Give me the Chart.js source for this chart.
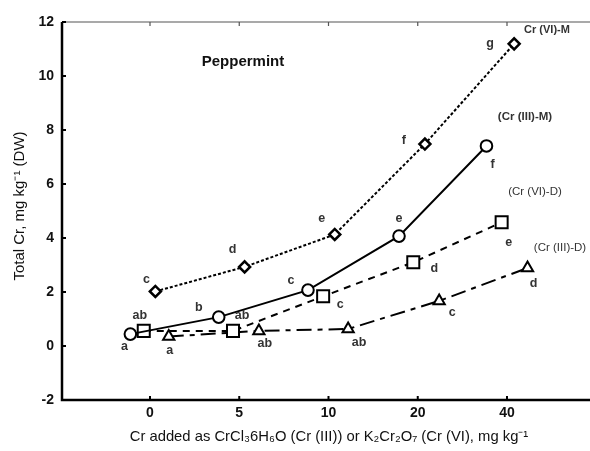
<!DOCTYPE html>
<html><head><meta charset="utf-8">
<script src="https://cdn.jsdelivr.net/npm/chart.js@4.4.1/dist/chart.umd.min.js"></script>
<style>html,body{margin:0;padding:0;background:#fff}#wrap{width:590px;height:451px}</style>
</head><body><div id="wrap"><canvas id="c" width="590" height="451"></canvas></div>
<script>
// Category tick labels (Cr added, mg/kg), placed at index positions 0..4
const tickLabels = ['0', '5', '10', '20', '40'];
const yTicks = [-2, 0, 2, 4, 6, 8, 10, 12];

// Series: x is category-index position (points are shifted around each category), y = Total Cr
const crVI_M_x = [0.06, 1.06, 2.07, 3.08, 4.08];
const crVI_M_y = [2.02, 2.93, 4.13, 7.48, 11.19];
const crVI_M_letters = ['c', 'd', 'e', 'f', 'g'];

const crIII_M_x = [-0.22, 0.77, 1.77, 2.79, 3.77];
const crIII_M_y = [0.44, 1.07, 2.07, 4.07, 7.41];
const crIII_M_letters = ['a', 'b', 'c', 'e', 'f'];

const crVI_D_x = [-0.07, 0.93, 1.94, 2.95, 3.94];
const crVI_D_y = [0.56, 0.56, 1.84, 3.10, 4.58];
const crVI_D_letters = ['ab', 'ab', 'c', 'd', 'e'];

const crIII_D_x = [0.21, 1.22, 2.22, 3.24, 4.23];
const crIII_D_y = [0.35, 0.56, 0.63, 1.67, 2.89];
const crIII_D_letters = ['a', 'ab', 'ab', 'c', 'd'];

const seriesNames = ['Cr (VI)-M', '(Cr (III)-M)', '(Cr (VI)-D)', '(Cr (III)-D)'];

// label placement (pixel offsets from each point)
const letterOffsets = [
  [[-9,-12],[-12,-17],[-13,-16],[-21,-3],[-24,0]],
  [[-6,12],[-20,-10],[-17,-10],[0,-18],[6,19]],
  [[-4,-15],[9,-15],[17,8],[21,6],[7,20]],
  [[1,14],[6,13],[11,14],[13,12],[6,16]]
];
const nameStyle = [
  {x:547, y:30, font:'bold 11px "Liberation Sans", Arial'},
  {x:525, y:117, font:'bold 11.5px "Liberation Sans", Arial'},
  {x:535, y:192, font:'11.5px "Liberation Sans", Arial'},
  {x:560, y:248, font:'11.5px "Liberation Sans", Arial'}
];

const zip = (xs, ys) => xs.map((x, i) => ({x: x, y: ys[i]}));
const allLetters = [crVI_M_letters, crIII_M_letters, crVI_D_letters, crIII_D_letters];

const base = {borderColor:'#000', pointBorderColor:'#000', pointBackgroundColor:'#fff', borderWidth:2, pointBorderWidth:2, fill:false, tension:0};

const decor = {
  id: 'decor',
  afterDatasetsDraw(chart) {
    const ctx = chart.ctx, a = chart.chartArea;
    const xs = chart.scales.x, ys = chart.scales.y;
    ctx.save();
    // axes
    ctx.strokeStyle = '#000'; ctx.lineWidth = 2.5;
    ctx.beginPath(); ctx.moveTo(a.left, a.top); ctx.lineTo(a.left, a.bottom); ctx.lineTo(a.right, a.bottom); ctx.stroke();
    ctx.strokeStyle = '#555'; ctx.lineWidth = 1.2;
    ctx.beginPath(); ctx.moveTo(a.left, a.top); ctx.lineTo(a.right, a.top); ctx.stroke();
    // inward ticks
    ctx.strokeStyle = '#000'; ctx.lineWidth = 2;
    ctx.beginPath();
    yTicks.forEach(v => { const p = ys.getPixelForValue(v); ctx.moveTo(a.left, p); ctx.lineTo(a.left + 4, p); });
    tickLabels.forEach((t, i) => { const p = xs.getPixelForValue(i); ctx.moveTo(p, a.bottom); ctx.lineTo(p, a.bottom - 4); });
    ctx.stroke();
    ctx.strokeStyle = '#555'; ctx.lineWidth = 1.2;
    ctx.beginPath();
    tickLabels.forEach((t, i) => { const p = xs.getPixelForValue(i); ctx.moveTo(p, a.top); ctx.lineTo(p, a.top + 4); });
    ctx.stroke();
    // letters
    ctx.fillStyle = '#333'; ctx.font = 'bold 12.5px "Liberation Sans", Arial';
    ctx.textAlign = 'center'; ctx.textBaseline = 'middle';
    chart.data.datasets.forEach((ds, di) => {
      const meta = chart.getDatasetMeta(di);
      meta.data.forEach((pt, i) => {
        const o = letterOffsets[di][i];
        ctx.fillText(allLetters[di][i], pt.x + o[0], pt.y + o[1]);
      });
    });
    // series names
    seriesNames.forEach((n, i) => {
      ctx.font = nameStyle[i].font; ctx.fillStyle = '#333';
      ctx.fillText(n, nameStyle[i].x, nameStyle[i].y);
    });
    // panel title
    ctx.font = 'bold 15px "Liberation Sans", Arial'; ctx.fillStyle = '#111';
    ctx.fillText('Peppermint', 243, 62);
    // axis titles
    ctx.font = '14.8px "Liberation Sans", Arial'; ctx.fillStyle = '#111';
    ctx.fillText('Cr added as CrCl\u20836H\u2086O (Cr (III)) or K\u2082Cr\u2082O\u2087 (Cr (VI), mg kg\u207B\u00B9', 329, 437);
    ctx.font = '15px "Liberation Sans", Arial';
    ctx.translate(20, 206); ctx.rotate(-Math.PI / 2);
    ctx.fillText('Total Cr, mg kg\u207B\u00B9 (DW)', 0, 0);
    ctx.restore();
  }
};

new Chart(document.getElementById('c'), {
  type: 'line',
  data: {
    datasets: [
      Object.assign({}, base, {label: seriesNames[0], data: zip(crVI_M_x, crVI_M_y), borderDash:[3,2], pointStyle:'rectRot', pointRadius:5.5, pointBorderWidth:2.5}),
      Object.assign({}, base, {label: seriesNames[1], data: zip(crIII_M_x, crIII_M_y), pointStyle:'circle', pointRadius:5.8}),
      Object.assign({}, base, {label: seriesNames[2], data: zip(crVI_D_x, crVI_D_y), borderDash:[7,6], pointStyle:'rect', pointRadius:8.5}),
      Object.assign({}, base, {label: seriesNames[3], data: zip(crIII_D_x, crIII_D_y), borderDash:[15,6,5,6], pointStyle:'triangle', pointRadius:6.5})
    ]
  },
  options: {
    responsive: false, animation: false,
    layout: {autoPadding: false, padding: {left: 0, right: 0, top: 22, bottom: 0}},
    plugins: {legend: {display: false}, tooltip: {enabled: false}},
    scales: {
      x: {
        type: 'linear', min: -0.986, max: 4.93,
        afterBuildTicks: s => { s.ticks = tickLabels.map((t, i) => ({value: i})); },
        afterFit: s => { s.height = 51; s.paddingLeft = 0; s.paddingRight = 0; },
        ticks: {callback: (v) => tickLabels[v] !== undefined ? tickLabels[v] : '', color:'#111', font:{family:'"Liberation Sans", Arial', size:14, weight:'bold'}, padding: 5, maxRotation: 0, autoSkip: false},
        grid: {display: false, drawTicks: false},
        border: {display: false}
      },
      y: {
        min: -2, max: 12,
        afterBuildTicks: s => { s.ticks = yTicks.map(v => ({value: v})); },
        afterFit: s => { s.width = 62; s.paddingTop = 0; s.paddingBottom = 0; },
        ticks: {color:'#111', font:{family:'"Liberation Sans", Arial', size:14, weight:'bold'}, padding: 8},
        grid: {display: false, drawTicks: false},
        border: {display: false}
      }
    }
  },
  plugins: [decor]
});
</script></body></html>
